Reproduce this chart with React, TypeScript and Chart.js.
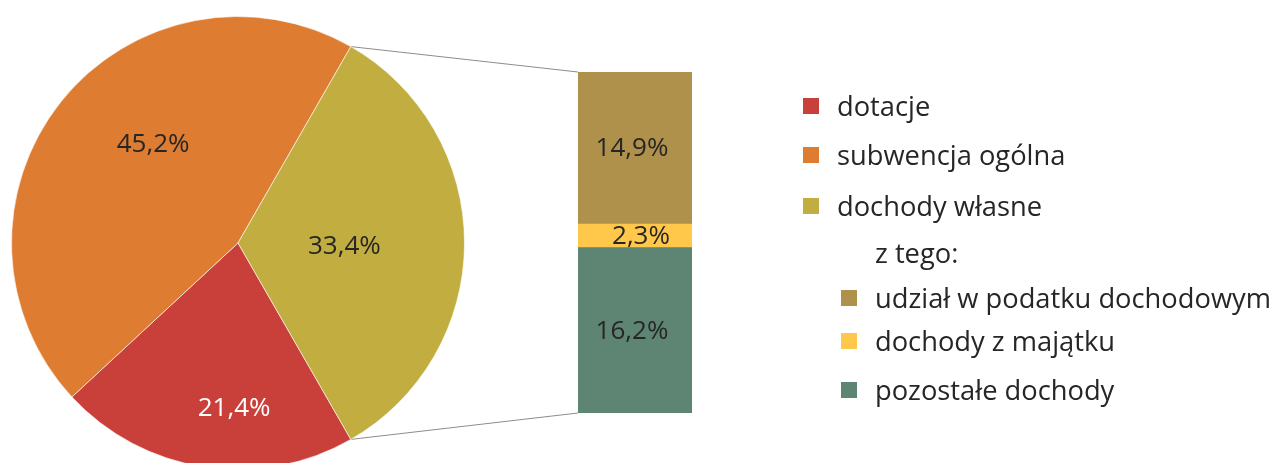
import React, { useEffect, useRef } from "react";
import { Chart, registerables } from "chart.js";

Chart.register(...registerables);

// ---- data ----
const PIE_LABELS = ["dotacje", "subwencja ogólna", "dochody własne"];
const PIE_VALUES = [21.4, 45.2, 33.4];
const PIE_COLORS = ["#C9403A", "#DE7C31", "#C2AD41"];
const PIE_TEXT_COLORS = ["#FFFFFF", "#262626", "#262626"];

const BAR_LABELS = ["pozostałe dochody", "dochody z majątku", "udział w podatku dochodowym"];
const BAR_VALUES = [16.2, 2.3, 14.9];
const BAR_COLORS = ["#5E8574", "#FFC84A", "#B0914C"];

const LEGEND_MAIN = [0, 1, 2];
const LEGEND_SUB_TITLE = "z tego:";
const LEGEND_SUB = [2, 1, 0];

// ---- style ----
const FONT = "'Open Sans', 'Noto Sans', sans-serif";
const TEXT = "#262626";
// label placement inside pie slices: [radius fraction, angle offset in degrees]
const PIE_LABEL_POS: [number, number][] = [
  [0.73, -7.3],
  [0.575, 10.8],
  [0.47, 2],
];
const BAR_LABEL_DX = [-3, 6, -3];

const fmt = (v: number) => v.toFixed(1).replace(".", ",") + "%";

export default function App() {
  const pieRef = useRef<HTMLCanvasElement>(null);
  const barRef = useRef<HTMLCanvasElement>(null);
  const lineRef = useRef<HTMLCanvasElement>(null);

  useEffect(() => {
    document.body.style.margin = "0";
    const total = PIE_VALUES.reduce((a, b) => a + b, 0);
    const ownShare = PIE_VALUES[2] / total;
    const rotation = 90 + (ownShare * 360) / 2;

    const pieLabelPlugin = {
      id: "pieLabels",
      afterDatasetsDraw(chart: any) {
        const ctx = chart.ctx;
        const meta = chart.getDatasetMeta(0);
        ctx.save();
        ctx.font = `26px ${FONT}`;
        ctx.textAlign = "center";
        ctx.textBaseline = "middle";
        meta.data.forEach((arc: any, i: number) => {
          const [frac, off] = PIE_LABEL_POS[i];
          const a = (arc.startAngle + arc.endAngle) / 2 + (off * Math.PI) / 180;
          const r = arc.outerRadius * frac;
          ctx.fillStyle = PIE_TEXT_COLORS[i];
          ctx.fillText(fmt(PIE_VALUES[i]), arc.x + Math.cos(a) * r, arc.y + Math.sin(a) * r);
        });
        ctx.restore();
      },
    };

    const barLabelPlugin = {
      id: "barLabels",
      afterDatasetsDraw(chart: any) {
        const ctx = chart.ctx;
        ctx.save();
        ctx.font = `26px ${FONT}`;
        ctx.textAlign = "center";
        ctx.textBaseline = "middle";
        ctx.fillStyle = TEXT;
        chart.data.datasets.forEach((_: any, i: number) => {
          const el = chart.getDatasetMeta(i).data[0];
          ctx.fillText(fmt(BAR_VALUES[i]), el.x + BAR_LABEL_DX[i], (el.y + el.base) / 2 + 1);
        });
        ctx.restore();
      },
    };

    const pie = new Chart(pieRef.current!, {
      type: "pie",
      data: {
        labels: PIE_LABELS,
        datasets: [
          {
            data: PIE_VALUES,
            backgroundColor: PIE_COLORS,
            borderColor: "rgba(255,255,255,0.6)",
            borderWidth: 1,
          },
        ],
      },
      options: {
        responsive: true,
        maintainAspectRatio: false,
        animation: false,
        rotation,
        layout: { padding: 11 },
        plugins: { legend: { display: false }, tooltip: { enabled: false } },
      },
      plugins: [pieLabelPlugin],
    });

    const bar = new Chart(barRef.current!, {
      type: "bar",
      data: {
        labels: [""],
        datasets: BAR_LABELS.map((l, i) => ({
          label: l,
          data: [BAR_VALUES[i]],
          backgroundColor: BAR_COLORS[i],
          borderWidth: 0,
          barPercentage: 1,
          categoryPercentage: 1,
        })),
      },
      options: {
        responsive: true,
        maintainAspectRatio: false,
        animation: false,
        layout: { padding: 0 },
        scales: {
          x: { display: false, stacked: true },
          y: {
            display: false,
            stacked: true,
            min: 0,
            max: BAR_VALUES.reduce((a, b) => a + b, 0),
          },
        },
        plugins: { legend: { display: false }, tooltip: { enabled: false } },
      },
      plugins: [barLabelPlugin],
    });

    // connector lines
    const lc = lineRef.current!;
    const dpr = window.devicePixelRatio || 1;
    lc.width = 1275 * dpr;
    lc.height = 463 * dpr;
    const lctx = lc.getContext("2d")!;
    lctx.scale(dpr, dpr);
    const pieBox = pieRef.current!.parentElement!;
    const barBox = barRef.current!.parentElement!;
    const px = pieBox.offsetLeft, py = pieBox.offsetTop;
    const bx = barBox.offsetLeft, by = barBox.offsetTop;
    const arc: any = pie.getDatasetMeta(0).data[2];
    const topEl: any = bar.getDatasetMeta(2).data[0];
    const botEl: any = bar.getDatasetMeta(0).data[0];
    const p1 = [px + arc.x + Math.cos(arc.startAngle) * arc.outerRadius, py + arc.y + Math.sin(arc.startAngle) * arc.outerRadius];
    const p2 = [px + arc.x + Math.cos(arc.endAngle) * arc.outerRadius, py + arc.y + Math.sin(arc.endAngle) * arc.outerRadius];
    const b1 = [bx + topEl.x - topEl.width / 2, by + topEl.y];
    const b2 = [bx + botEl.x - botEl.width / 2, by + botEl.base];
    lctx.strokeStyle = "#8C8C8C";
    lctx.lineWidth = 1;
    lctx.beginPath();
    lctx.moveTo(p1[0], p1[1]);
    lctx.lineTo(b1[0], b1[1]);
    lctx.moveTo(p2[0], p2[1]);
    lctx.lineTo(b2[0], b2[1]);
    lctx.stroke();

    return () => {
      pie.destroy();
      bar.destroy();
    };
  }, []);

  const sq = (color: string) => (
    <span style={{ display: "inline-block", width: 16, height: 16, background: color, marginRight: 18, verticalAlign: "middle" }} />
  );
  const mainTops = [106, 155, 206];
  const subTops = [298, 341, 390];
  const subColors = [BAR_COLORS[2], BAR_COLORS[1], BAR_COLORS[0]];
  const subLabels = [BAR_LABELS[2], BAR_LABELS[1], BAR_LABELS[0]];

  const row = (top: number, left: number, content: React.ReactNode, key: string) => (
    <div
      key={key}
      style={{
        position: "absolute",
        left,
        top: top - 20,
        height: 40,
        lineHeight: "40px",
        fontFamily: FONT,
        fontSize: 27.3,
        color: TEXT,
        whiteSpace: "nowrap",
        display: "flex",
        alignItems: "center",
      }}
    >
      {content}
    </div>
  );

  return (
    <div style={{ position: "absolute", left: 0, top: 0, width: 1275, height: 463, overflow: "hidden", background: "#fff" }}>
      <canvas ref={lineRef} style={{ position: "absolute", left: 0, top: 0, width: 1275, height: 463 }} />
      <div style={{ position: "absolute", left: 0, top: 0, width: 476, height: 486 }}>
        <canvas ref={pieRef} />
      </div>
      <div style={{ position: "absolute", left: 578, top: 72, width: 114, height: 341 }}>
        <canvas ref={barRef} />
      </div>
      {LEGEND_MAIN.map((idx, i) =>
        row(mainTops[i], 803, <>{sq(PIE_COLORS[idx])}<span>{PIE_LABELS[idx]}</span></>, "m" + i)
      )}
      {row(253, 875, <span>{LEGEND_SUB_TITLE}</span>, "t")}
      {LEGEND_SUB.map((_, i) =>
        row(subTops[i], 841, <>{sq(subColors[i])}<span>{subLabels[i]}</span></>, "s" + i)
      )}
    </div>
  );
}
